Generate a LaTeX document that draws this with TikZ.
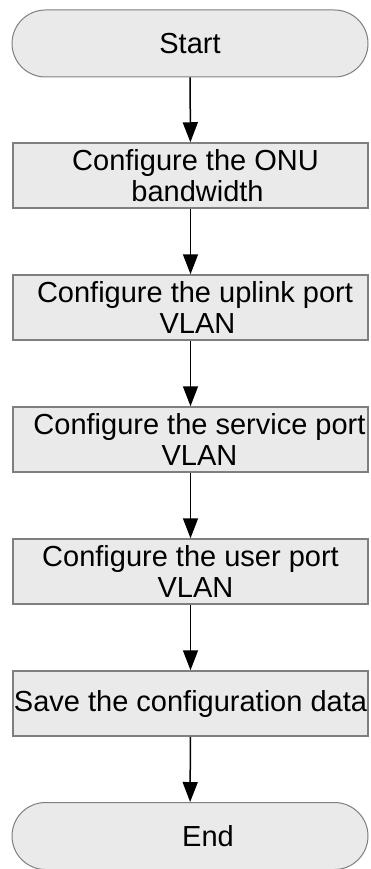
\documentclass[tikz,border=0pt]{standalone}
\usepackage{fontspec}
\setmainfont{Liberation Sans}
\usetikzlibrary{arrows.meta,shapes.misc}
\definecolor{boxfill}{HTML}{EAEAEA}
\definecolor{boxline}{HTML}{7F7F7F}
\newcommand{\lsh}[1]{\hspace*{#1}}
\tikzset{
  x=1pt,y=-1pt,
  stepbox/.style={draw=boxline,line width=1.5pt,fill=boxfill,minimum width=355pt,minimum height=65pt,
    inner sep=0pt,align=center,font=\fontsize{29}{31}\selectfont},
  termbox/.style={rounded rectangle,draw=boxline,line width=1pt,fill=boxfill,minimum width=356pt,minimum height=67pt,
    inner sep=0pt,align=center,font=\fontsize{29}{31}\selectfont},
  flow/.style={draw=black,line width=1.5pt,-{Triangle[length=20pt,width=15pt]}}
}
\begin{document}
\begin{tikzpicture}
\useasboundingbox (0,0) rectangle (370,869);
\node[termbox] (start) at (190,43.5) {Start};
\node[stepbox] (s1) at (190.5,175.5) {\lsh{10pt}Configure the ONU\\\lsh{14pt}bandwidth};
\node[stepbox] (s2) at (190.5,307.5) {\lsh{9pt}Configure the uplink port\\\lsh{14pt}VLAN};
\node[stepbox] (s3) at (190.5,439.5) {\lsh{18pt}Configure the service port\\\lsh{18pt}VLAN};
\node[stepbox] (s4) at (190.5,571.5) {Configure the user port\\\lsh{10pt}VLAN};
\node[stepbox] (s5) at (190.5,703.5) {Save the configuration data};
\node[termbox] (end) at (190,836) {\lsh{36pt}End};
\draw[flow] (start) -- (s1);
\draw[flow] (s1) -- (s2);
\draw[flow] (s2) -- (s3);
\draw[flow] (s3) -- (s4);
\draw[flow] (s4) -- (s5);
\draw[flow] (s5) -- (end);
\end{tikzpicture}
\end{document}
